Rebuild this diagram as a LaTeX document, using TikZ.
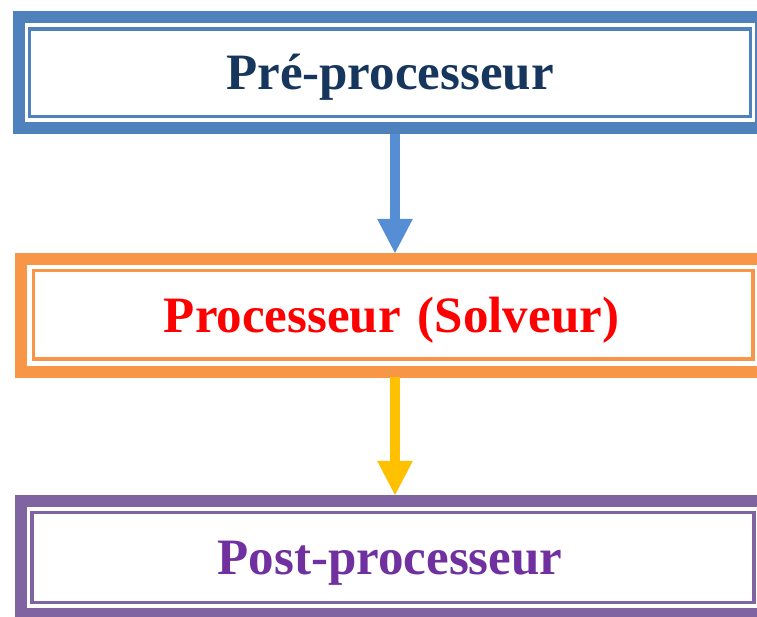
\documentclass[tikz,border=0pt]{standalone}
\usepackage{fontspec}
\setmainfont{Liberation Serif}
\usetikzlibrary{arrows.meta,calc}
\definecolor{bandblue}{HTML}{4F81BD}
\definecolor{arrblue}{HTML}{558ED5}
\definecolor{bandorange}{HTML}{F79646}
\definecolor{arryellow}{HTML}{FFC000}
\definecolor{bandpurple}{HTML}{8064A2}
\definecolor{txtnavy}{HTML}{17365D}
\definecolor{txtred}{HTML}{FF0000}
\definecolor{txtpurple}{HTML}{7030A0}
\tikzset{
  stagebox/.style={inner sep=0pt, minimum width=754pt, minimum height=123pt,
    font=\fontsize{51}{61}\selectfont\bfseries, text height=33.5pt, text depth=0pt},
  thickband/.style={line width=12pt},
  thinband/.style={line width=3.5pt},
  flowarrow/.style={line width=10pt, -{Triangle[width=33pt,length=35pt]}},
}
\begin{document}
\begin{tikzpicture}[x=1pt,y=-1pt]
\useasboundingbox (0,0) rectangle (757,616);
\clip (0,0) rectangle (757,616);
\fill[white] (0,0) rectangle (757,616);

% boxes
\node[stagebox, text=txtnavy] (pre) at (390,72.5) {Pré-processeur};
\node[stagebox, text=txtred, text width=754pt, align=center] (proc) at (393,315.5) {\hspace*{-3pt}Processeur (Solveur)};
\node[stagebox, text=txtpurple, text width=754pt, align=center] (post) at (393,557.5) {\hspace*{-6pt}Post-processeur};

% borders (thick outer, thin inner)
\draw[thickband, bandblue] ($(pre.north west)+(6,6)$) rectangle ($(pre.south east)+(-6,-6)$);
\draw[thinband, bandblue] ($(pre.north west)+(16.5,18)$) rectangle ($(pre.south east)+(-16.5,-17.5)$);

\draw[thickband, bandorange] ($(proc.north west)+(5.5,5)$) rectangle ($(proc.south east)+(-5.5,-5.5)$);
\draw[thinband, bandorange] ($(proc.north west)+(17.5,16.5)$) rectangle ($(proc.south east)+(-17,-18)$);

\draw[thickband, bandpurple] ($(post.north west)+(5.5,5.5)$) rectangle ($(post.south east)+(-5.5,-5.5)$);
\draw[thinband, bandpurple] ($(post.north west)+(16,16.5)$) rectangle ($(post.south east)+(-16,-16.5)$);

% connectors
\coordinate (ax) at (395,0);
\draw[flowarrow, arrblue] (ax |- pre.south) -- (ax |- proc.north);
\draw[flowarrow, arryellow] (ax |- proc.south) -- (ax |- post.north);
\end{tikzpicture}
\end{document}
